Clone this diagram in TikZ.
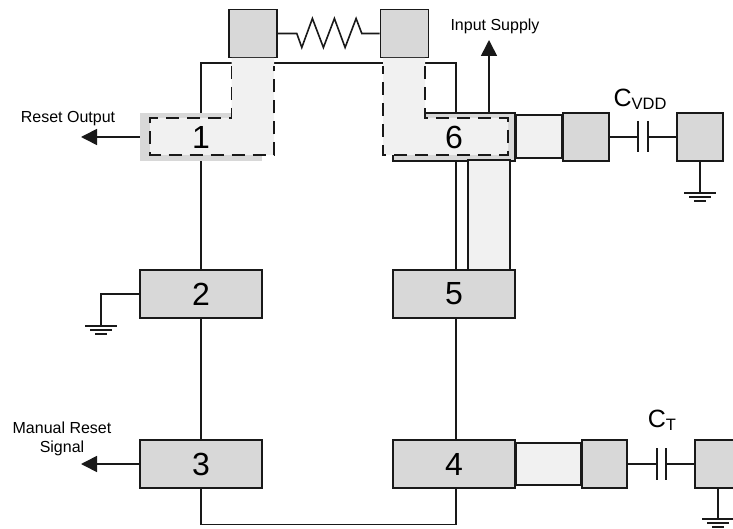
\documentclass[tikz,border=0pt]{standalone}
\usepackage{fontspec}
\setmainfont{Liberation Sans}
\usepackage{xcolor}
\usetikzlibrary{arrows.meta}
\definecolor{padgray}{HTML}{D8D8D8}
\definecolor{tracegray}{HTML}{F1F1F1}
\tikzset{
    wire/.style = {line width=1.6pt, draw=black!90},
    dashwire/.style = {wire, dash pattern=on 13pt off 8pt},
    arrowwire/.style = {wire, -{Triangle[length=16pt,width=16pt]}},
    pin/.style = {fill=padgray, minimum width=122pt, minimum height=48pt, inner sep=0pt, font=\fontsize{32}{32}\selectfont},
    pinbox/.style = {pin, draw=black!90, line width=1.6pt},
    pad/.style = {fill=padgray, draw=black!90, line width=1.6pt, minimum width=48pt, minimum height=48pt, inner sep=0pt},
    trace/.style = {fill=tracegray, wire},
    label/.style = {inner sep=0pt, font=\fontsize{16}{19}\selectfont, align=center},
    capname/.style = {inner sep=0pt, font=\fontsize{25}{25}\selectfont},
    gnd/.pic = {
        \draw[wire] (-16,0) -- (16,0);
        \draw[wire] (-11,4) -- (11,4);
        \draw[wire] (-6,8) -- (6,8);
    }
}
\newcommand{\capsub}[1]{\raisebox{-3pt}{\fontsize{16.5}{16}\selectfont #1}}
\begin{document}
\begin{tikzpicture}[x=1pt, y=-1pt, node distance = 157pt]
                \clip (0,0) rectangle (733,529);
                \node (P1) [pin] at (201,137) {};
                \node (P2) [pinbox, below of = P1] {2};
                \node (P3) [pinbox, below of = P2, node distance = 170pt] {3};
                \node (P6) [pinbox, right of = P1, node distance = 253pt] {};
                \node (P5) [pinbox, below of = P6] {5};
                \node (P4) [pinbox, below of = P5, node distance = 170pt] {4};

                \node (RA) [pad] at (253,33.5) {};
                \node (RB) [pad, right of = RA, node distance = 151.5pt] {};
                \node (VA) [pad, minimum width=46pt] at (586,137) {};
                \node (VB) [pad, minimum width=46pt, right of = VA, node distance = 114pt] {};
                \node (TA) [pad, minimum width=45pt] at (604.5,464) {};
                \node (TB) [pad, minimum width=46pt, right of = TA, node distance = 113.5pt] {};

                % traces between pins and pads
                \draw[trace] (P6.east |- 0,115) rectangle (VA.west |- 0,158);
                \draw[trace] (P4.east |- 0,443) rectangle (TA.west |- 0,485);
                \draw[trace] (468,160) rectangle (510,270);

                % resistor
                \draw[wire] (RA.east) -- ++(19,0) -- ++(5,14) -- ++(10.6,-29) -- ++(11,29) -- ++(11,-29)
                    -- ++(10.7,29) -- ++(11,-29) -- ++(5.7,15) -- (RB.west);

                % loop of pins
                \coordinate (TL) at (P1.center |- 0,63);
                \coordinate (TR) at (456,63);
                \coordinate (BL) at (P3.center |- 0,524.5);
                \coordinate (BR) at (456,524.5);
                \draw[wire] (P1.north) -- (TL) -- (TR) -- (TR |- P6.north);
                \draw[wire] (P1.south) -- (P2.north);
                \draw[wire] (P2.south) -- (P3.north);
                \draw[wire] (P3.south) -- (BL) -- (BR) -- (BR |- P4.south);
                \draw[wire] (TR |- P4.north) -- (TR |- P5.south);
                \draw[wire] (TR |- P5.north) -- (TR |- P6.south);

                % grey areas with dashed outline
                \fill[tracegray] (231.5,58) -- (231.5,118) -- (150,118) -- (150,155) -- (274,155) -- (274,58) -- cycle;
                \draw[dashwire] (231.5,66) -- (231.5,118) -- (150,118) -- (150,155) -- (274,155) -- (274,66);
                \fill[tracegray] (383,58) -- (383,155) -- (508,155) -- (508,118) -- (425,118) -- (425,58) -- cycle;
                \draw[dashwire] (425,66) -- (425,118) -- (508,118) -- (508,155) -- (383,155) -- (383,66);
                \node (N1) [inner sep=0pt, font=\fontsize{32}{32}\selectfont] at (P1) {1};
                \node (N6) [inner sep=0pt, font=\fontsize{32}{32}\selectfont] at (P6) {6};

                % signals
                \coordinate (ResetEnd) at (81,137);
                \coordinate (ManualEnd) at (81,464);
                \coordinate (SupplyEnd) at (489,40);
                \coordinate (GndBend) at (101,294);
                \draw[arrowwire] (P1.west) -- (ResetEnd);
                \draw[arrowwire] (P3.west) -- (ManualEnd);
                \draw[arrowwire] (SupplyEnd |- P6.north) -- (SupplyEnd);
                \node (ResetLabel) [label] at (68,119) {Reset Output};
                \node (ManualLabel) [label] at (62,439) {Manual Reset\\Signal};
                \node (SupplyLabel) [label] at (495,26) {Input Supply};

                % ground of pin 2
                \coordinate (GndA) at (101,326);
                \draw[wire] (P2.west) -- (GndBend) -- (GndA);
                \pic at (GndA) {gnd};

                % capacitors
                \coordinate (CvA) at (638,137);
                \coordinate (CvB) at (648,137);
                \draw[wire] (VA.east) -- (CvA);
                \draw[wire] (CvB) -- (VB.west);
                \draw[wire] (638,121) -- (638,152);
                \draw[wire] (648,121) -- (648,152);
                \node (CvName) [capname] at (640,99) {C\capsub{VDD}};
                \coordinate (CtA) at (657,464);
                \coordinate (CtB) at (666,464);
                \draw[wire] (TA.east) -- (CtA);
                \draw[wire] (CtB) -- (TB.west);
                \draw[wire] (657,448) -- (657,480);
                \draw[wire] (666,448) -- (666,480);
                \node (CtName) [capname] at (662,420) {C\capsub{T}};

                % grounds of pads
                \coordinate (GndB) at (VB.south |- 0,193);
                \coordinate (GndC) at (TB.south |- 0,519);
                \draw[wire] (VB.south) -- (GndB);
                \pic at (GndB) {gnd};
                \draw[wire] (TB.south) -- (GndC);
                \pic at (GndC) {gnd};
\end{tikzpicture}
\end{document}
